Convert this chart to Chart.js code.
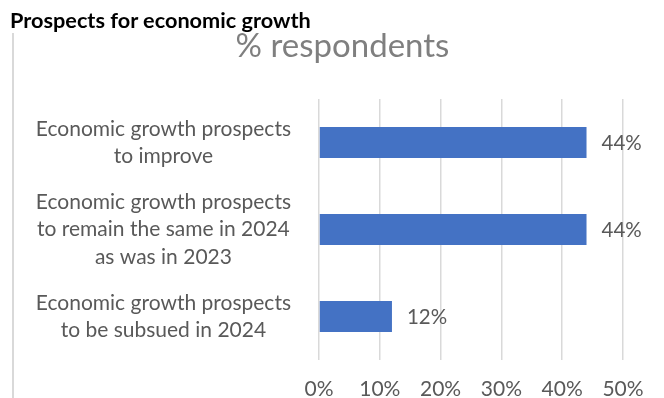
<!DOCTYPE html>
<html>
<head>
<meta charset="utf-8">
<script src="https://cdn.jsdelivr.net/npm/chart.js@4"></script>
<style>
  html, body { margin: 0; padding: 0; background: #fff; }
  #wrap { position: relative; width: 664px; height: 398px; overflow: hidden; }
  #heading {
    position: absolute; left: 10px; top: 9px;
    font: bold 21.7px Lato, sans-serif; color: #000; line-height: 22px;
  }
  #subtitle {
    position: absolute; left: 0; top: 27px; width: 685px; text-align: center;
    font: 33px Lato, sans-serif; color: #7f7f7f; line-height: 34px;
  }
  #frame {
    position: absolute; left: 12px; top: 33px; width: 0; height: 380px;
    border-left: 2px solid #d9d9d9;
  }
  canvas { position: absolute; left: 0; top: 0; }
</style>
</head>
<body>
<div id="wrap">
  <canvas id="chart" width="664" height="398"></canvas>
  <div id="frame"></div>
  <div id="heading">Prospects for economic growth</div>
  <div id="subtitle">% respondents</div>
</div>
<script>
const categories = [
  ['Economic growth prospects', 'to improve'],
  ['Economic growth prospects', 'to remain the same in 2024', 'as was in 2023'],
  ['Economic growth prospects', 'to be subsued in 2024']
];
const shares = [44, 44, 12];
const tickValues = [0, 10, 20, 30, 40, 50];

const textGray = '#595959';

// value labels to the right of each bar
const barLabels = {
  id: 'barLabels',
  afterDatasetsDraw(chart) {
    const ctx = chart.ctx;
    const meta = chart.getDatasetMeta(0);
    ctx.save();
    ctx.font = '20.5px Lato, sans-serif';
    ctx.fillStyle = textGray;
    ctx.textAlign = 'left';
    ctx.textBaseline = 'middle';
    meta.data.forEach((bar, i) => {
      ctx.fillText(shares[i] + '%', bar.x + 15, bar.y + 1);
    });
    ctx.restore();
  }
};

new Chart(document.getElementById('chart'), {
  type: 'bar',
  data: {
    labels: categories,
    datasets: [{
      data: shares,
      backgroundColor: '#4472C4',
      borderWidth: 0,
      categoryPercentage: 1,
      barPercentage: 0.355
    }]
  },
  options: {
    indexAxis: 'y',
    responsive: false,
    animation: false,
    layout: { padding: { top: 99, left: 30, right: 41, bottom: 0 } },
    plugins: {
      legend: { display: false },
      tooltip: { enabled: false }
    },
    scales: {
      x: {
        min: 0,
        max: 50,
        afterBuildTicks(scale) {
          scale.ticks = tickValues.map(v => ({ value: v }));
        },
        afterFit(scale) {
          scale.height = 38;
        },
        grid: { color: '#d9d9d9', lineWidth: 1.5, drawTicks: false },
        border: { display: false },
        ticks: {
          padding: 20,
          color: textGray,
          font: { family: 'Lato, sans-serif', size: 21, lineHeight: '18px' },
          callback: v => v + '%'
        }
      },
      y: {
        grid: { display: false, drawTicks: false },
        border: { display: false },
        afterFit(scale) {
          // fixed label column, no extra room above/below the bars
          scale.width = 289;
          scale.paddingTop = 0;
          scale.paddingBottom = 0;
        },
        ticks: {
          padding: 28,
          autoSkip: false,
          crossAlign: 'center',
          color: textGray,
          font: { family: 'Lato, sans-serif', size: 21, lineHeight: '27.5px' }
        }
      }
    }
  },
  plugins: [barLabels]
});
</script>
</body>
</html>
